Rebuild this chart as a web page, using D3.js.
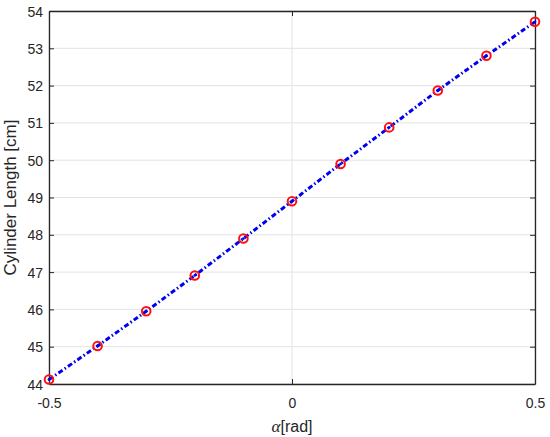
<!DOCTYPE html>
<html>
<head>
<meta charset="utf-8">
<script src="https://cdn.jsdelivr.net/npm/d3@7"></script>
<style>
  body { margin: 0; background: #fff; }
  text { font-family: "Liberation Sans", Arial, sans-serif; fill: #262626; }
</style>
</head>
<body>
<svg id="chart" width="550" height="437"></svg>
<script>
// data
const alphaRad = [-0.5, -0.4, -0.3, -0.2, -0.1, 0, 0.1, 0.2, 0.3, 0.4, 0.5]
const cylinderLength = [44.12, 45.02, 45.95, 46.91, 47.90, 48.90, 49.90, 50.88, 51.87, 52.80, 53.71]
const xTicks = [-0.5, 0, 0.5]
const yTicks = [44, 45, 46, 47, 48, 49, 50, 51, 52, 53, 54]

const margin = { left: 49, top: 11, right: 15, bottom: 53 }
const width = 550, height = 437
const svg = d3.select('#chart')

const x = d3.scaleLinear().domain([-0.5, 0.5]).range([margin.left, width - margin.right])
const y = d3.scaleLinear().domain([44, 54]).range([height - margin.bottom, margin.top])

const axisColor = '#262626'
const gridColor = '#e3e3e3'

// grid
svg.append('g')
    .selectAll('line')
    .data(yTicks)
    .join('line')
    .attr('x1', x.range()[0]).attr('x2', x.range()[1])
    .attr('y1', d => y(d)).attr('y2', d => y(d))
    .attr('stroke', gridColor).attr('stroke-width', 1)
svg.append('g')
    .selectAll('line')
    .data(xTicks)
    .join('line')
    .attr('x1', d => x(d)).attr('x2', d => x(d))
    .attr('y1', y.range()[0]).attr('y2', y.range()[1])
    .attr('stroke', gridColor).attr('stroke-width', 1)

// axes (MATLAB style: inward ticks, box on)
const tickLen = 5
const fmt = d => d === 0 ? '0' : String(d)
const gBottom = svg.append('g').attr('transform', `translate(0,${y(44)})`)
    .call(d3.axisBottom(x).tickValues(xTicks).tickSizeInner(-tickLen).tickSizeOuter(0).tickPadding(11).tickFormat(fmt))
const gTop = svg.append('g').attr('transform', `translate(0,${y(54)})`)
    .call(d3.axisTop(x).tickValues(xTicks).tickSizeInner(-tickLen).tickSizeOuter(0).tickFormat(''))
const gLeft = svg.append('g').attr('transform', `translate(${x(-0.5)},0)`)
    .call(d3.axisLeft(y).tickValues(yTicks).tickSizeInner(-tickLen).tickSizeOuter(0).tickPadding(6))
const gRight = svg.append('g').attr('transform', `translate(${x(0.5)},0)`)
    .call(d3.axisRight(y).tickValues(yTicks).tickSizeInner(-tickLen).tickSizeOuter(0).tickFormat(''))

;[gBottom, gTop, gLeft, gRight].forEach(g => {
    g.select('.domain').attr('stroke', axisColor).attr('stroke-width', 1.3)
    g.selectAll('.tick line').attr('stroke', axisColor).attr('stroke-width', 1)
    g.selectAll('.tick text').attr('font-size', 14).attr('fill', '#1a1a1a')
        .attr('font-family', '"Liberation Sans", Arial, sans-serif')
})
gBottom.selectAll('.tick text').attr('dy', '0.9em')
gLeft.selectAll('.tick text').attr('dy', '0.36em')

// line
const line = d3.line().x((d, i) => x(alphaRad[i])).y(d => y(d))
svg.append('path')
    .datum(cylinderLength)
    .attr('d', line)
    .attr('fill', 'none')
    .attr('stroke', '#0000f0')
    .attr('stroke-width', 3)
    .attr('stroke-dasharray', '5,2.5,1.5,2.5')

// markers
svg.append('g')
    .selectAll('circle')
    .data(cylinderLength)
    .join('circle')
    .attr('cx', (d, i) => x(alphaRad[i]))
    .attr('cy', d => y(d))
    .attr('r', 4.3)
    .attr('fill', 'none')
    .attr('stroke', '#ff1010')
    .attr('stroke-width', 2)

// center dots (line passes through marker centres)
svg.append('g')
    .selectAll('circle')
    .data(cylinderLength)
    .join('circle')
    .attr('cx', (d, i) => x(alphaRad[i]))
    .attr('cy', d => y(d))
    .attr('r', 1.4)
    .attr('fill', '#0000f0')

// labels
svg.append('text')
    .attr('transform', `translate(16,${(y(44) + y(54)) / 2}) rotate(-90)`)
    .attr('text-anchor', 'middle')
    .attr('font-size', 17)
    .attr('fill', '#1a1a1a')
    .text('Cylinder Length [cm]')

const xl = svg.append('text')
    .attr('x', x(0))
    .attr('y', 432)
    .attr('text-anchor', 'middle')
    .attr('font-size', 16)
    .attr('fill', '#1a1a1a')
xl.append('tspan').attr('font-family', '"Liberation Serif", "Times New Roman", serif').attr('font-style', 'italic').attr('font-size', 17).text('α')
xl.append('tspan').text('[rad]')
</script>
</body>
</html>
